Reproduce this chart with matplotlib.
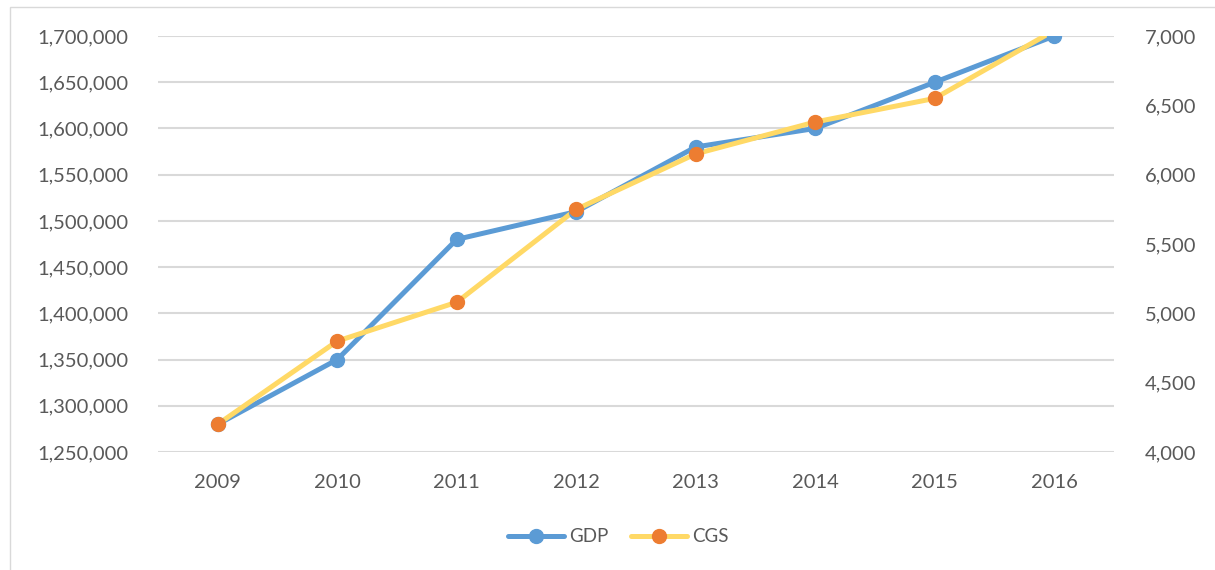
import matplotlib
matplotlib.use("Agg")
import matplotlib.pyplot as plt
from matplotlib.ticker import FuncFormatter, MultipleLocator
from matplotlib.patches import Rectangle
from matplotlib.lines import Line2D

years = ["2009", "2010", "2011", "2012", "2013", "2014", "2015", "2016"]
gdp = [1280000, 1350000, 1480000, 1510000, 1580000, 1600000, 1650000, 1700000]
cgs = [4200, 4800, 5080, 5750, 6150, 6380, 6550, 7040]

plt.rcParams['font.family'] = ['Lato', 'DejaVu Sans']
text_col = '#595959'
blue, yellow, orange = '#5B9BD5', '#FFD966', '#ED7D31'

W, H = 1215, 570
fig = plt.figure(figsize=(W / 100, H / 100), dpi=100)
fig.patches.append(Rectangle((10 / W, -0.1), 1.2, (H - 7) / H + 0.1, transform=fig.transFigure,
                             fill=False, edgecolor='#D9D9D9', linewidth=1.0))

ax = fig.add_axes([158 / W, (H - 452) / H, (1114 - 158) / W, (452 - 36) / H])
ax2 = ax.twinx()   # CGS line + right ticks
ax3 = ax.twinx()   # GDP markers (drawn above lines)
ax4 = ax.twinx()   # CGS markers (top)

y1lim = (1250000, 1700000)
y2lim = (4000, 7000)
x = list(range(len(years)))

ax.plot(x, gdp, color=blue, linewidth=3.6, solid_capstyle='round')
ax2.plot(x, cgs, color=yellow, linewidth=3.6, solid_capstyle='round')
ax3.plot(x, gdp, linestyle='none', marker='o', markersize=10,
         markerfacecolor=blue, markeredgecolor=blue)
vis = [i for i, v in enumerate(cgs) if v <= y2lim[1]]
ax4.plot([x[i] for i in vis], [cgs[i] for i in vis], linestyle='none', marker='o', markersize=10,
         markerfacecolor=orange, markeredgecolor=orange)

for a in (ax, ax2, ax3, ax4):
    a.set_xlim(-0.5, len(years) - 0.5)
    for s in a.spines.values():
        s.set_visible(False)
    a.tick_params(length=0, labelsize=14.5, labelcolor=text_col)
for a in (ax2, ax3, ax4):
    a.patch.set_visible(False)
ax.set_ylim(*y1lim)
ax3.set_ylim(*y1lim)
ax2.set_ylim(*y2lim)
ax4.set_ylim(*y2lim)
ax3.set_yticks([])
ax4.set_yticks([])

ax.yaxis.set_major_locator(MultipleLocator(50000))
ax2.yaxis.set_major_locator(MultipleLocator(500))
fmt = FuncFormatter(lambda v, p: f"{int(round(v)):,}")
ax.yaxis.set_major_formatter(fmt)
ax2.yaxis.set_major_formatter(fmt)
ax.set_xticks(x)
ax.set_xticklabels(years)

ax.grid(axis='y', color='#D9D9D9', linewidth=1.5)
ax.set_axisbelow(True)
ax.tick_params(axis='y', pad=21)
ax2.tick_params(axis='y', pad=22)
ax.tick_params(axis='x', pad=16)

handles = [Line2D([], [], color=blue, linewidth=3.6, marker='o', markersize=10,
                  markerfacecolor=blue, markeredgecolor=blue, solid_capstyle='round'),
           Line2D([], [], color=yellow, linewidth=3.6, marker='o', markersize=10,
                  markerfacecolor=orange, markeredgecolor=orange, solid_capstyle='round')]
fig.legend(handles, ['GDP', 'CGS'], loc='center', bbox_to_anchor=(618 / W, (H - 537) / H), ncol=2,
           frameon=False, fontsize=13.5, labelcolor=text_col, handlelength=3.0,
           columnspacing=1.2, handletextpad=0.27)

fig.savefig('out.png', dpi=100)
